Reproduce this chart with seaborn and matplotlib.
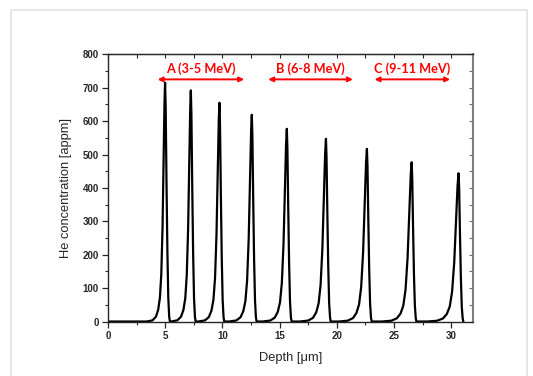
import matplotlib
matplotlib.use("Agg")
import matplotlib.pyplot as plt
import numpy as np
import seaborn as sns
from matplotlib.patches import Rectangle
from matplotlib.ticker import MultipleLocator

# Peak data
peak_depth = [4.99, 7.24, 9.74, 12.57, 15.63, 19.05, 22.63, 26.54, 30.64]   # um
peak_height = [715, 692, 655, 619, 577, 547, 517, 477, 444]                # appm
peak_spread = [1.0, 1.08, 1.16, 1.24, 1.32, 1.42, 1.52, 1.62, 1.72]        # left-side widening

# shape of one peak (offset from maximum in um, fraction of maximum)
left_offset = [-1.6, -1.1, -0.8, -0.6, -0.45, -0.33, -0.22, -0.12, -0.05, 0.0]
left_frac = [0.0, 0.005, 0.02, 0.05, 0.10, 0.20, 0.40, 0.70, 0.92, 1.0]
right_offset = [0.05, 0.12, 0.20, 0.28, 0.36, 0.42]
right_frac = [0.90, 0.60, 0.30, 0.10, 0.02, 0.0]

# energy ranges shown by the red arrows
range_labels = ["A (3-5 MeV)", "B (6-8 MeV)", "C (9-11 MeV)"]
range_start = [4.34, 14.0, 23.3]
range_end = [11.9, 21.4, 29.9]

# build the depth profile as one line
xs, ys = [0.0], [0.0]
for c, h, w in zip(peak_depth, peak_height, peak_spread):
    xs += [c + o * w for o in left_offset] + [c + o for o in right_offset]
    ys += [h * f for f in left_frac] + [h * f for f in right_frac]

sns.set_style("ticks")
plt.rcParams["font.family"] = ["Liberation Sans", "DejaVu Sans"]

fig = plt.figure(figsize=(5.33, 3.76), dpi=100)
ax = fig.add_axes([0.2026, 0.1449, 0.6848, 0.7106])

sns.lineplot(x=np.array(xs), y=np.array(ys), sort=False, estimator=None,
             color="black", lw=1.6, ax=ax)

ax.set_xlim(0, 31.9)
ax.set_ylim(0, 800)
ax.xaxis.set_major_locator(MultipleLocator(5))
ax.xaxis.set_minor_locator(MultipleLocator(2.5))
ax.yaxis.set_major_locator(MultipleLocator(100))
ax.yaxis.set_minor_locator(MultipleLocator(50))

ax.tick_params(which="major", direction="out", length=4, width=0.9,
               labelsize=7, pad=2.5, top=False, right=False)
ax.tick_params(which="minor", direction="out", length=2.5, width=0.8,
               top=False, right=False)
for lab in ax.get_xticklabels() + ax.get_yticklabels():
    lab.set_fontweight("bold")

# mirrored inward ticks on top and right, like the original
sec_x = ax.secondary_xaxis("top")
sec_x.xaxis.set_major_locator(MultipleLocator(5))
sec_x.xaxis.set_minor_locator(MultipleLocator(2.5))
sec_x.tick_params(which="both", direction="in", length=3, width=0.8, labeltop=False)
sec_y = ax.secondary_yaxis("right")
sec_y.yaxis.set_major_locator(MultipleLocator(100))
sec_y.yaxis.set_minor_locator(MultipleLocator(50))
sec_y.tick_params(which="both", direction="in", length=3, width=0.8,
                  labelright=False, color="#707070")
sec_y.spines["right"].set_color("#808080")
sec_y.spines["right"].set_linewidth(1.5)

for s in ax.spines.values():
    s.set_linewidth(1.0)
ax.spines["right"].set_visible(False)

ax.set_xlabel("Depth [\u03bcm]", fontsize=9.3, labelpad=8)
ax.set_ylabel("He concentration [appm]", fontsize=9.3, labelpad=8)

for lab, x0, x1 in zip(range_labels, range_start, range_end):
    ax.annotate("", xy=(x1, 725), xytext=(x0, 725),
                arrowprops=dict(arrowstyle="<|-|>", color="red", lw=1.4,
                                mutation_scale=7, shrinkA=0, shrinkB=0))
    ax.text((x0 + x1) / 2, 757, lab, color="red", fontsize=9.2,
            fontweight="bold", family=["Lato", "DejaVu Sans"],
            ha="center", va="center")

# light frame around the figure
fig.patches.append(Rectangle((11 / 533, -0.2), 516 / 533, 1.2 - 10 / 376,
                             transform=fig.transFigure, fill=False,
                             edgecolor="#e3e3e3", lw=1.2))

fig.savefig("out.png", dpi=100)
